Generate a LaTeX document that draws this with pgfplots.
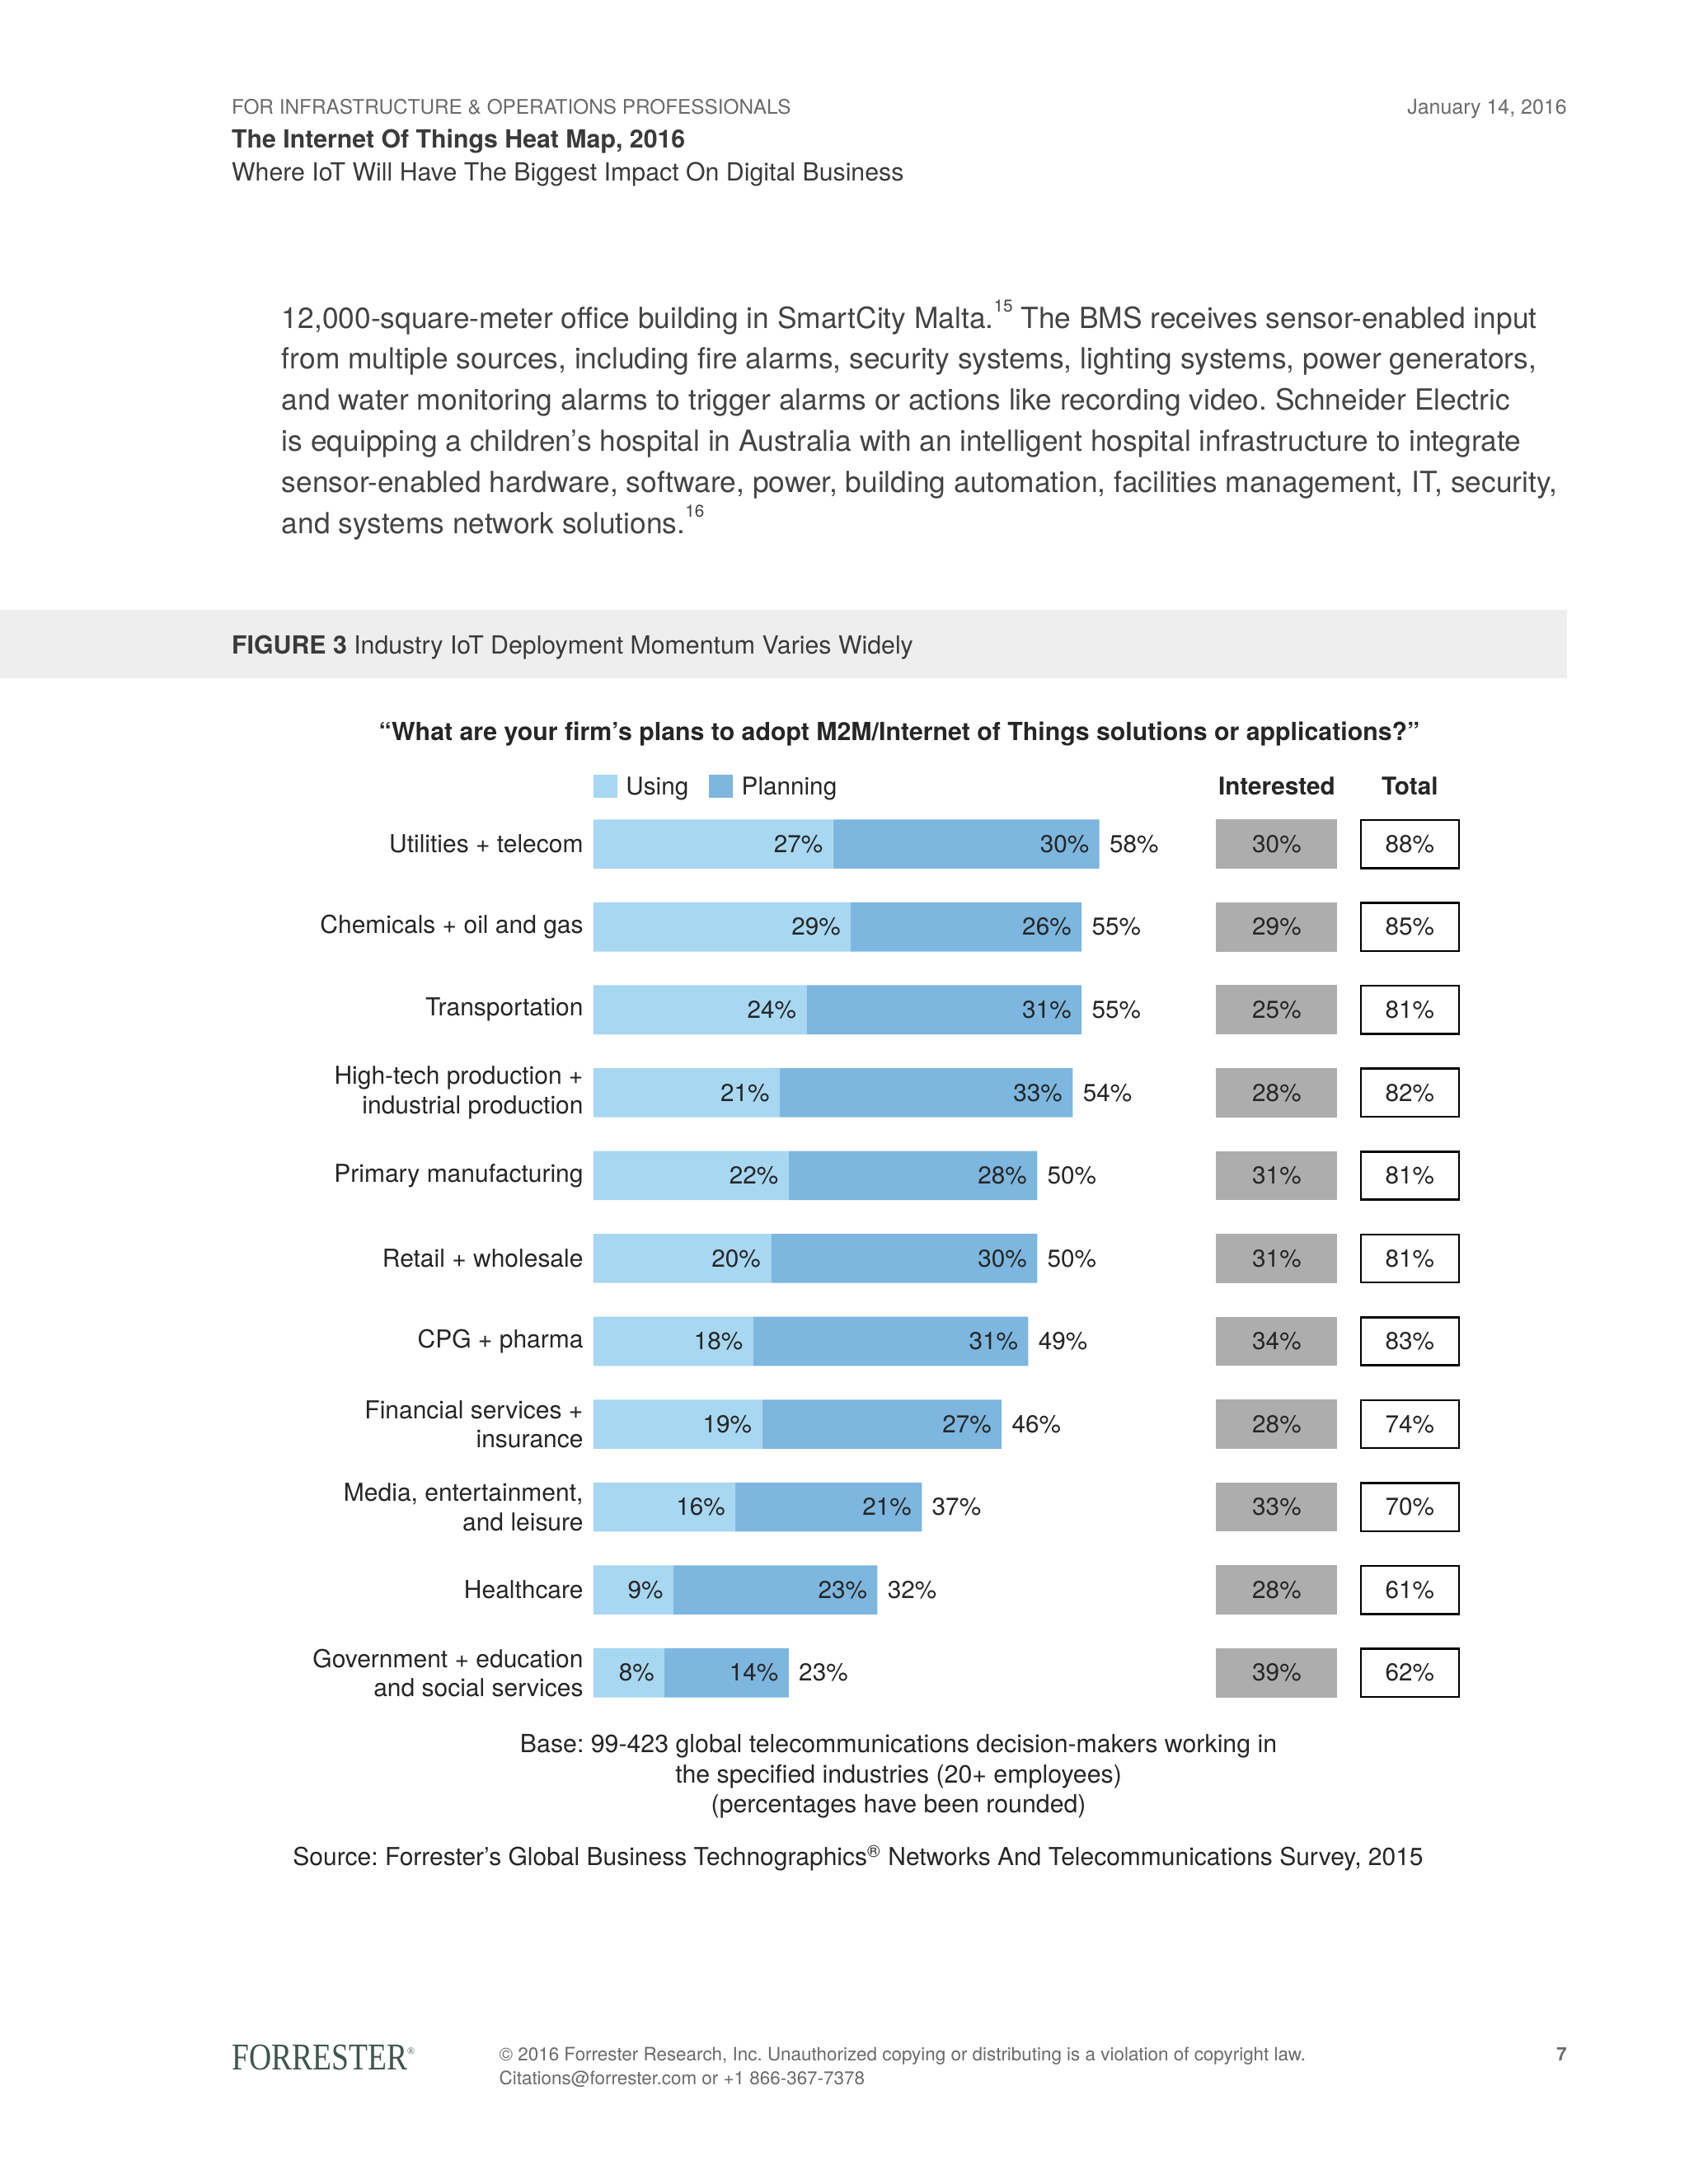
\documentclass[border=0pt]{standalone}
\usepackage{fontspec}
\setmainfont{TeX Gyre Heros}
\newfontfamily\logofont{Liberation Serif}
\usepackage{graphicx}
\usepackage{pgfplots}
\pgfplotsset{compat=1.18}
\usepackage{pgfplotstable}
\definecolor{usingc}{HTML}{A7D7F1}
\definecolor{planc}{HTML}{7DB6DE}
\definecolor{intc}{HTML}{ADADAD}
\definecolor{bandc}{HTML}{EEEEEE}
\definecolor{hgray}{HTML}{6A6A6A}
\definecolor{tdark}{HTML}{3A3A3A}
\definecolor{pgray}{HTML}{444444}
\definecolor{ctext}{HTML}{262626}
\definecolor{logoc}{HTML}{3F564B}

\pgfplotstableread{
idx using planning barlab int total
0 27 30 58 30 88
1 29 26 55 29 85
2 24 31 55 25 81
3 21 33 54 28 82
4 22 28 50 31 81
5 20 30 50 31 81
6 18 31 49 34 83
7 19 27 46 28 74
8 16 21 37 33 70
9 9 23 32 28 61
10 8 14 23 39 62
}\data

\newcommand\fpx[2]{\fontsize{#1pt}{#2pt}\selectfont}
\newcommand\fnsup[1]{\raisebox{1.05ex}{\fpx{7}{8}#1}}

\begin{document}
\frenchspacing
\begin{tikzpicture}
\useasboundingbox (0,0) rectangle (242.4mm,313.6mm);
\fill[white] (0,0) rectangle (242.4mm,313.6mm);
\begin{scope}[x=0.2mm,y=0.2mm]
% header
\node[anchor=base west, inner sep=0pt, text=hgray, font=\fpx{8.2}{10}] at (166,1568-82) {FOR INFRASTRUCTURE \& OPERATIONS PROFESSIONALS};
\node[anchor=base east, inner sep=0pt, text=hgray, font=\fpx{8.4}{10}] at (1125,1568-82) {January 14, 2016};
\node[anchor=base west, inner sep=0pt, text=tdark, font=\fpx{10.2}{12}\bfseries] at (166,1568-106) {The Internet Of Things Heat Map, 2016};
\node[anchor=base west, inner sep=0pt, text=tdark, font=\fpx{10.2}{12}] at (166,1568-130) {Where IoT Will Have The Biggest Impact On Digital Business};
% paragraph
\begin{scope}[every node/.style={anchor=base west, inner sep=0pt, text=pgray, font=\fpx{11.9}{14}}]
\node at (202,1568-235.5) {12,000-square-meter office building in SmartCity Malta.\fnsup{15} The BMS receives sensor-enabled input};
\node at (202,1568-265) {from multiple sources, including fire alarms, security systems, lighting systems, power generators,};
\node at (202,1568-294.5) {and water monitoring alarms to trigger alarms or actions like recording video. Schneider Electric};
\node at (202,1568-324) {is equipping a children’s hospital in Australia with an intelligent hospital infrastructure to integrate};
\node at (202,1568-353.5) {sensor-enabled hardware, software, power, building automation, facilities management, IT, security,};
\node at (202,1568-383) {and systems network solutions.\fnsup{16}};
\end{scope}
% figure band
\fill[bandc] (0,1568-438) rectangle (1125,1568-487);
\node[anchor=base west, inner sep=0pt, text=tdark, font=\fpx{10.2}{12}] at (166,1568-469.5) {\textbf{FIGURE 3} Industry IoT Deployment Momentum Varies Widely};
% question
\node[anchor=base, inner sep=0pt, text=ctext, font=\fpx{10.2}{12}\bfseries] at (645.5,1568-531.5) {“What are your firm’s plans to adopt M2M/Internet of Things solutions or applications?”};
% legend
\fill[usingc] (426,1568-556) rectangle (443,1568-573);
\node[anchor=base west, inner sep=0pt, text=ctext, font=\fpx{10}{12}] at (449,1568-570.5) {Using};
\fill[planc] (509,1568-556) rectangle (526,1568-573);
\node[anchor=base west, inner sep=0pt, text=ctext, font=\fpx{10}{12}] at (532,1568-570.5) {Planning};
\node[anchor=base, inner sep=0pt, text=ctext, font=\fpx{10}{12}\bfseries] at (916.5,1568-570.5) {Interested};
\node[anchor=base, inner sep=0pt, text=ctext, font=\fpx{10}{12}\bfseries] at (1012,1568-570.5) {Total};
% base / source
\node[anchor=base, inner sep=0pt, text=ctext, font=\fpx{10.2}{12}] at (645,1568-1258.5) {Base: 99-423 global telecommunications decision-makers working in};
\node[anchor=base, inner sep=0pt, text=ctext, font=\fpx{10.2}{12}] at (645,1568-1280) {the specified industries (20+ employees)};
\node[anchor=base, inner sep=0pt, text=ctext, font=\fpx{10.2}{12}] at (645,1568-1301.5) {(percentages have been rounded)};
\node[anchor=base, inner sep=0pt, text=ctext, font=\fpx{10.1}{12}] at (616,1568-1339.5) {Source: Forrester’s Global Business Technographics\textsuperscript{®} Networks And Telecommunications Survey, 2015};
% footer
\node[anchor=base west, inner sep=0pt, text=logoc] at (166,1568-1486) {\resizebox{25.2mm}{3.6mm}{\logofont FORRESTER}\raisebox{2.2mm}{\fpx{4}{5}\logofont ®}};
\node[anchor=base west, inner sep=0pt, text=hgray, font=\fpx{7.55}{9}] at (358,1568-1479.5) {© 2016 Forrester Research, Inc. Unauthorized copying or distributing is a violation of copyright law.};
\node[anchor=base west, inner sep=0pt, text=hgray, font=\fpx{7.55}{9}] at (358,1568-1496.5) {Citations@forrester.com or +1 866-367-7378};
\node[anchor=base east, inner sep=0pt, text=hgray, font=\fpx{7.55}{9}\bfseries] at (1125,1568-1479.5) {7};
\end{scope}

\pgfplotsset{chartax/.style={at={(85.2mm,67.45mm)}, anchor=south west, x=1.274mm, y=11.9mm,
  xmin=0, xmax=100, ymin=-0.5, ymax=10.5, y dir=reverse, clip=false}}

\begin{axis}[chartax, xbar stacked, bar width=7.05mm,
  axis line style={draw=none}, tick style={draw=none}, xtick=\empty,
  ytick={0,...,10},
  yticklabels={{Utilities + telecom},{Chemicals + oil and gas},{Transportation},
    {High-tech production +\\industrial production},{Primary manufacturing},{Retail + wholesale},
    {CPG + pharma},{Financial services +\\insurance},{Media, entertainment,\\and leisure},
    {Healthcare},{Government + education\\and social services}},
  yticklabel style={anchor=east, inner sep=0pt, xshift=-1.4mm, align=right, font=\fpx{10.1}{11.9}, text=ctext}]
\addplot[fill=usingc, draw=none] table[x=using, y=idx] {\data};
\addplot[fill=planc, draw=none] table[x=planning, y=idx] {\data};
\end{axis}

\begin{axis}[chartax, hide axis, point meta=explicit symbolic,
  nodes near coords={\pgfplotspointmeta\%}]
% labels inside the segments, right-aligned at each segment end
\addplot[draw=none, mark=none,
  every node near coord/.append style={anchor=east, xshift=-1.4mm, font=\fpx{10}{12}, text=ctext, inner sep=0pt}]
  table[x=using, y=idx, meta=using] {\data};
\addplot[draw=none, mark=none,
  every node near coord/.append style={anchor=east, xshift=-1.4mm, font=\fpx{10}{12}, text=ctext, inner sep=0pt}]
  table[x expr=\thisrow{using}+\thisrow{planning}, y=idx, meta=planning] {\data};
% bar totals
\addplot[draw=none, mark=none,
  every node near coord/.append style={anchor=west, xshift=1.4mm, font=\fpx{10}{12}, text=ctext, inner sep=0pt}]
  table[x expr=\thisrow{using}+\thisrow{planning}, y=idx, meta=barlab] {\data};
% interested
\addplot[draw=none, mark=none,
  every node near coord/.append style={anchor=center, fill=intc, minimum width=17.4mm, minimum height=7.05mm, inner sep=0pt, font=\fpx{10}{12}, text=ctext}]
  table[x expr=77, y=idx, meta=int] {\data};
% total
\addplot[draw=none, mark=none,
  every node near coord/.append style={anchor=center, draw=black, line width=0.3mm, fill=white, minimum width=14.1mm, minimum height=6.9mm, inner sep=0pt, font=\fpx{10}{12}, text=ctext}]
  table[x expr=92, y=idx, meta=total] {\data};
\end{axis}
\end{tikzpicture}
\end{document}
